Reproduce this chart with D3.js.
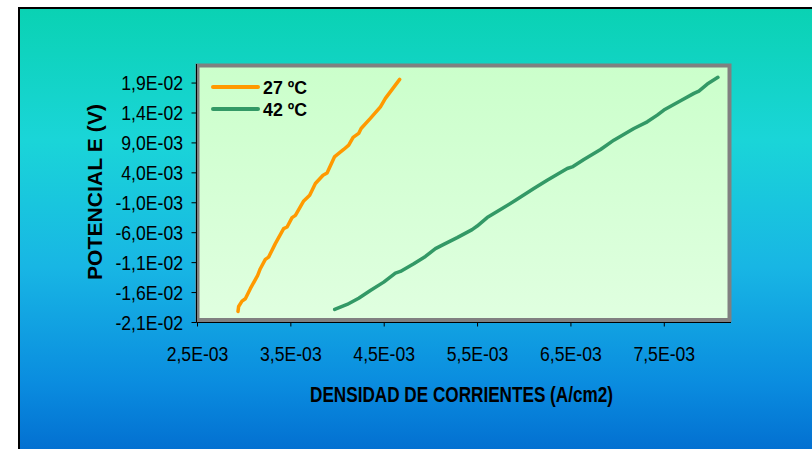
<!DOCTYPE html>
<html>
<head>
<meta charset="utf-8">
<script src="https://cdn.jsdelivr.net/npm/d3@7"></script>
<style>
  html, body { margin: 0; padding: 0; background: #ffffff; overflow: hidden; }
  svg { display: block; }
  text { font-family: "Liberation Sans", Arial, sans-serif; fill: #000; }
</style>
</head>
<body>
<svg id="chart" width="812" height="449"></svg>
<script>
// ---------- data ----------
const seriesNames = ["27 ºC", "42 ºC"];
const seriesColors = ["#FF9900", "#339966"];

const x27 = [0.002939, 0.002946, 0.002982, 0.003018, 0.003071, 0.003150, 0.003178, 0.003232, 0.003267, 0.003339,
             0.003428, 0.003465, 0.003518, 0.003554, 0.003643, 0.003707, 0.003768, 0.003850, 0.003893, 0.003972,
             0.004018, 0.004071, 0.004125, 0.004172, 0.004232, 0.004258, 0.004357, 0.004465, 0.004518, 0.004671];
const y27 = [-0.01924, -0.01841, -0.01752, -0.01712, -0.01544, -0.01322, -0.01210, -0.01054, -0.01016, -0.00791,
             -0.00540, -0.00513, -0.00356, -0.00318, -0.00078, 0.00017, 0.00213, 0.00352, 0.00390, 0.00658,
             0.00715, 0.00782, 0.00854, 0.00983, 0.01050, 0.01133, 0.01301, 0.01495, 0.01635, 0.01953];

const x42 = [0.003975, 0.004108, 0.004232, 0.004357, 0.004500, 0.004625, 0.004679, 0.004822, 0.004947, 0.005054,
             0.005143, 0.005287, 0.005447, 0.005501, 0.005608, 0.005751, 0.005912, 0.006108, 0.006251, 0.006466,
             0.006519, 0.006644, 0.006823, 0.006965, 0.007180, 0.007323, 0.007430, 0.007501, 0.007680, 0.007823,
             0.007876, 0.007966, 0.008080];
const y42 = [-0.01891, -0.01807, -0.01702, -0.01573, -0.01434, -0.01283, -0.01255, -0.01126, -0.01004, -0.00875,
             -0.00803, -0.00691, -0.00557, -0.00497, -0.00356, -0.00222, -0.00067, 0.00129, 0.00268, 0.00464,
             0.00491, 0.00615, 0.00782, 0.00938, 0.01133, 0.01244, 0.01356, 0.01440, 0.01595, 0.01719,
             0.01758, 0.01875, 0.01987];

const xTicks = [0.0025, 0.0035, 0.0045, 0.0055, 0.0065, 0.0075];
const xTickLabels = ["2,5E-03", "3,5E-03", "4,5E-03", "5,5E-03", "6,5E-03", "7,5E-03"];
const yTicks = [-0.021, -0.016, -0.011, -0.006, -0.001, 0.004, 0.009, 0.014, 0.019];
const yTickLabels = ["-2,1E-02", "-1,6E-02", "-1,1E-02", "-6,0E-03", "-1,0E-03", "4,0E-03", "9,0E-03", "1,4E-02", "1,9E-02"];
const xDomain = [0.0025, 0.00822];
const yDomain = [-0.021, 0.0221];

const xTitle = "DENSIDAD DE CORRIENTES (A/cm2)";
const yTitle = "POTENCIAL E (V)";

// ---------- layout ----------
const svg = d3.select("#chart");
const P = { left: 197, right: 731, top: 64, bottom: 322 };

const defs = svg.append("defs");
const bg = defs.append("linearGradient").attr("id", "bgGrad")
  .attr("x1", 0).attr("y1", 0).attr("x2", 0).attr("y2", 1);
[[0, "#0AD2B3"], [0.28, "#1AD5D8"], [0.55, "#18B6E4"], [0.8, "#0A8CDF"], [1, "#0064CB"]]
  .forEach(([o, c]) => bg.append("stop").attr("offset", o).attr("stop-color", c));
const pg = defs.append("linearGradient").attr("id", "plotGrad")
  .attr("x1", 0).attr("y1", 0).attr("x2", 0).attr("y2", 1);
[[0, "#CBFFCB"], [1, "#E0FFE0"]]
  .forEach(([o, c]) => pg.append("stop").attr("offset", o).attr("stop-color", c));

// outer chart area
svg.append("rect").attr("x", 0).attr("y", 0).attr("width", 812).attr("height", 449).attr("fill", "#ffffff");
svg.append("rect").attr("x", 19).attr("y", 8).attr("width", 900).attr("height", 470)
  .attr("fill", "url(#bgGrad)").attr("stroke", "#000").attr("stroke-width", 2);

// plot area
svg.append("rect").attr("x", P.left + 0.5).attr("y", P.top + 1.5)
  .attr("width", P.right - P.left - 2).attr("height", P.bottom - P.top - 3.5)
  .attr("fill", "url(#plotGrad)").attr("stroke", "#808080").attr("stroke-width", 4);

const x = d3.scaleLinear().domain(xDomain).range([P.left, P.right]);
const y = d3.scaleLinear().domain(yDomain).range([P.bottom, P.top]);

const SX = 0.84;

// x axis
const xAxis = svg.append("g").attr("transform", `translate(0,${P.bottom + 0.5})`)
  .call(d3.axisBottom(x).tickValues(xTicks).tickSize(4).tickSizeOuter(0)
    .tickFormat((d, i) => xTickLabels[i]));
xAxis.select(".domain").attr("stroke", "#000").attr("d", `M${P.left - 0.5},0H${P.right}`);
xAxis.selectAll(".tick line").attr("stroke", "#000");
xAxis.selectAll(".tick text")
  .attr("font-size", 21).attr("y", 0).attr("dy", 0)
  .attr("transform", `translate(0,38.5) scale(${SX},1)`)
  .attr("font-family", "Liberation Sans, Arial, sans-serif").attr("fill", "#000");

// y axis
const yAxis = svg.append("g").attr("transform", `translate(${P.left - 0.5},0)`)
  .call(d3.axisLeft(y).tickValues(yTicks).tickSize(5).tickSizeOuter(0)
    .tickFormat((d, i) => yTickLabels[i]));
yAxis.select(".domain").attr("stroke", "#000").attr("d", `M0,${P.top}V${P.bottom + 0.5}`);
yAxis.selectAll(".tick line").attr("stroke", "#000");
yAxis.selectAll(".tick text")
  .attr("font-size", 21).attr("x", 0).attr("dy", 0)
  .attr("transform", `translate(-13.5,7.3) scale(${SX},1)`)
  .attr("font-family", "Liberation Sans, Arial, sans-serif").attr("fill", "#000");

// series
const line = d3.line().x(d => x(d[0])).y(d => y(d[1]));
const s27 = x27.map((v, i) => [v, y27[i]]);
const s42 = x42.map((v, i) => [v, y42[i]]);
[s27, s42].forEach((s, i) => {
  svg.append("path").datum(s).attr("d", line)
    .attr("fill", "none").attr("stroke", seriesColors[i]).attr("stroke-width", 3.5)
    .attr("stroke-linejoin", "round").attr("stroke-linecap", "round");
});

// legend
const legY = [87, 109];
seriesNames.forEach((n, i) => {
  svg.append("line").attr("x1", 213).attr("x2", 258).attr("y1", legY[i]).attr("y2", legY[i])
    .attr("stroke", seriesColors[i]).attr("stroke-width", 4).attr("stroke-linecap", "round");
  svg.append("text").attr("x", 263).attr("y", legY[i] + 6.5)
    .attr("font-size", 19).attr("font-weight", "bold")
    .attr("textLength", 44).attr("lengthAdjust", "spacingAndGlyphs").text(n);
});

// titles
svg.append("text").attr("x", 461.5).attr("y", 402).attr("text-anchor", "middle")
  .attr("font-size", 22).attr("font-weight", "bold")
  .attr("textLength", 303).attr("lengthAdjust", "spacingAndGlyphs").text(xTitle);
svg.append("text").attr("transform", "translate(101.5,192) rotate(-90)").attr("text-anchor", "middle")
  .attr("font-size", 21).attr("font-weight", "bold")
  .attr("textLength", 176).attr("lengthAdjust", "spacing").text(yTitle);
</script>
</body>
</html>
